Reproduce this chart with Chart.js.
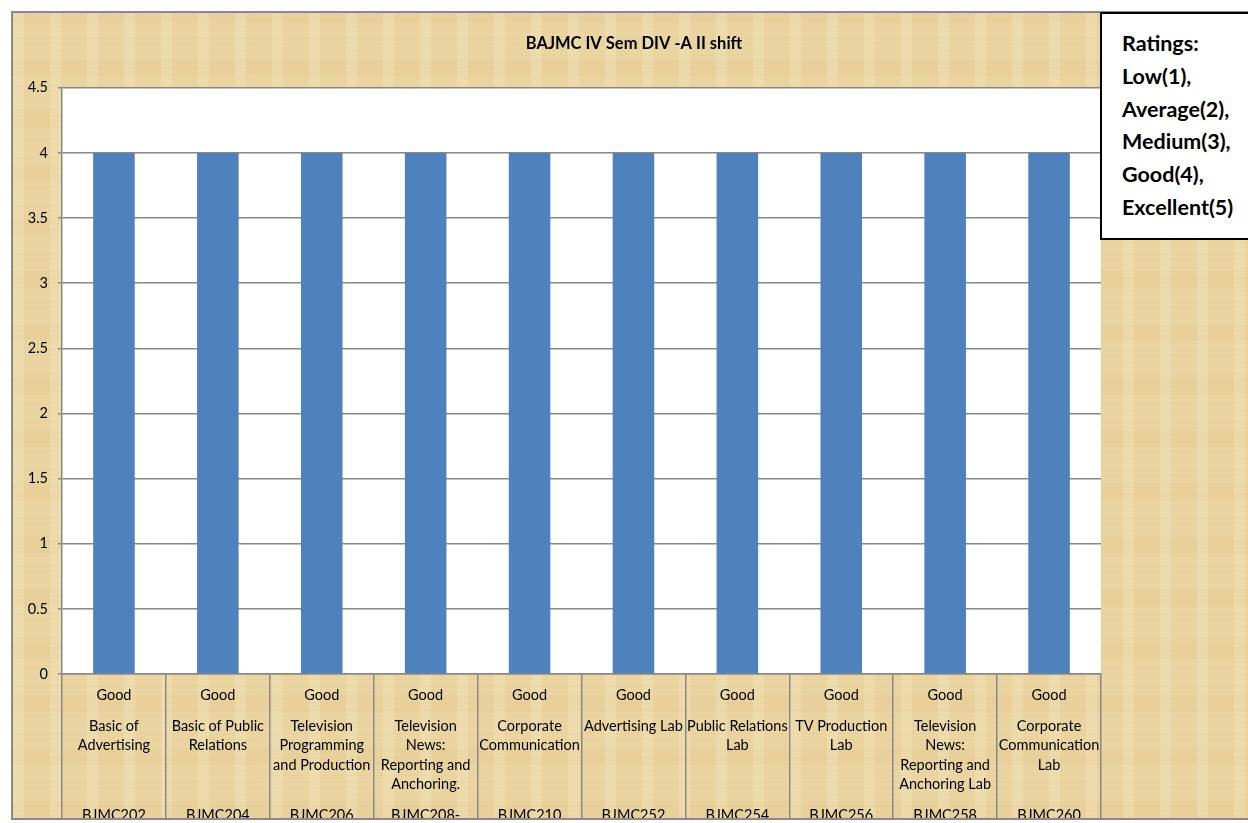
<!DOCTYPE html>
<html>
<head>
<meta charset="utf-8">
<script src="https://cdn.jsdelivr.net/npm/chart.js@4/dist/chart.umd.min.js"></script>
<style>
  html, body { margin: 0; padding: 0; background: #fff; overflow: hidden; }
  body { width: 1248px; height: 823px; position: relative; font-family: Lato, "Noto Sans", sans-serif; }
  #frame {
    position: absolute; left: 11px; top: 11px; width: 1246px; height: 809px;
    box-sizing: border-box;
    border-left: 2px solid #8a8a8a; border-top: 2px solid #8a8a8a; border-bottom: 2px solid #8a8a8a;
    background-color: #ebd5a3;
    background-image:
      repeating-linear-gradient(90deg, rgba(190,150,80,0.07) 0 1px, transparent 1px 4px),
      repeating-linear-gradient(0deg, rgba(190,150,80,0.05) 0 1px, transparent 1px 6px),
      repeating-linear-gradient(90deg, rgba(255,246,214,0.22) 0 11px, transparent 11px 37px),
      repeating-linear-gradient(0deg, rgba(205,165,95,0.08) 0 17px, transparent 17px 53px);
  }
  #wrap { position: absolute; left: 11px; top: 11px; width: 1246px; height: 809px; }
  #legend {
    position: absolute; left: 1100px; top: 12px; width: 160px; height: 228px;
    box-sizing: border-box; border: 2px solid #000; background: #fff;
    padding: 13px 0 0 20px;
    font: bold 21.5px Lato, sans-serif; line-height: 32.8px; color: #000;
  }
</style>
</head>
<body>
<div id="frame"></div>
<div id="wrap"><canvas id="myChart"></canvas></div>
<div id="legend">Ratings:<br>Low(1),<br>Average(2),<br>Medium(3),<br>Good(4),<br>Excellent(5)</div>
<script>
const ratings = ["Good", "Good", "Good", "Good", "Good", "Good", "Good", "Good", "Good", "Good"];
const subjects = [
  ["Basic of", "Advertising"],
  ["Basic of Public", "Relations"],
  ["Television", "Programming", "and Production"],
  ["Television", "News:", "Reporting and", "Anchoring."],
  ["Corporate", "Communication"],
  ["Advertising Lab"],
  ["Public Relations", "Lab"],
  ["TV Production", "Lab"],
  ["Television", "News:", "Reporting and", "Anchoring Lab"],
  ["Corporate", "Communication", "Lab"]
];
const codes = ["BJMC202", "BJMC204", "BJMC206", "BJMC208-", "BJMC210", "BJMC252", "BJMC254", "BJMC256", "BJMC258", "BJMC260"];
const scores = [4, 4, 4, 4, 4, 4, 4, 4, 4, 4];

const gray = "#888888";

// white plot area + the three-level category labels under the axis
const plotBg = {
  id: "plotBg",
  beforeDraw(chart) {
    const { ctx, chartArea: a } = chart;
    ctx.save();
    ctx.fillStyle = "#fff";
    ctx.fillRect(a.left, a.top, a.right - a.left, a.bottom - a.top);
    ctx.restore();
  },
  afterDraw(chart) {
    const { ctx } = chart;
    const xs = chart.scales.x;
    ctx.save();
    ctx.beginPath();
    ctx.rect(0, 0, chart.width, xs.top + 144);
    ctx.clip();
    ctx.fillStyle = "#000";
    ctx.font = "14.5px Lato, sans-serif";
    ctx.textAlign = "center";
    ctx.textBaseline = "middle";
    ratings.forEach((r, i) => {
      const x = xs.getPixelForValue(i);
      ctx.fillText(r, x, xs.top + 21);
      subjects[i].forEach((line, k) => ctx.fillText(line, x, xs.top + 52 + k * 19.6));
      ctx.fillText(codes[i], x, xs.top + 141);
    });
    ctx.restore();
  }
};

new Chart(document.getElementById("myChart"), {
  type: "bar",
  data: {
    labels: codes,
    datasets: [{
      data: scores,
      backgroundColor: "#4f81bd",
      borderWidth: 0,
      barPercentage: 0.4,
      categoryPercentage: 1
    }]
  },
  options: {
    responsive: true,
    maintainAspectRatio: false,
    animation: false,
    plugins: {
      legend: { display: false },
      tooltip: { enabled: false },
      title: {
        display: true,
        text: "BAJMC IV Sem DIV -A II shift",
        color: "#000",
        font: { family: "Lato", size: 16.5, weight: "bold" },
        padding: { top: 23, bottom: 34 }
      }
    },
    scales: {
      x: {
        offset: true,
        afterFit: (s) => { s.height = 146; },
        grid: { offset: true, drawOnChartArea: false, drawTicks: true, tickLength: 146, color: gray, lineWidth: 1.5 },
        border: { display: true, color: gray, width: 1.5 },
        ticks: { display: false }
      },
      y: {
        min: 0,
        max: 4.5,
        afterFit: (s) => { s.width = 51; },
        grid: { color: gray, lineWidth: 1.5, tickLength: 4 },
        border: { display: true, color: gray, width: 1.5 },
        ticks: {
          stepSize: 0.5, color: "#000", padding: 10,
          font: { family: "Lato", size: 14.5 },
          callback: (v) => String(v)
        }
      },
      // empty space on the right, kept free for the ratings box
      side: {
        position: "right",
        afterFit: (s) => { s.width = 156; },
        grid: { display: false },
        border: { display: false },
        ticks: { display: false }
      }
    }
  },
  plugins: [plotBg]
});
</script>
</body>
</html>
